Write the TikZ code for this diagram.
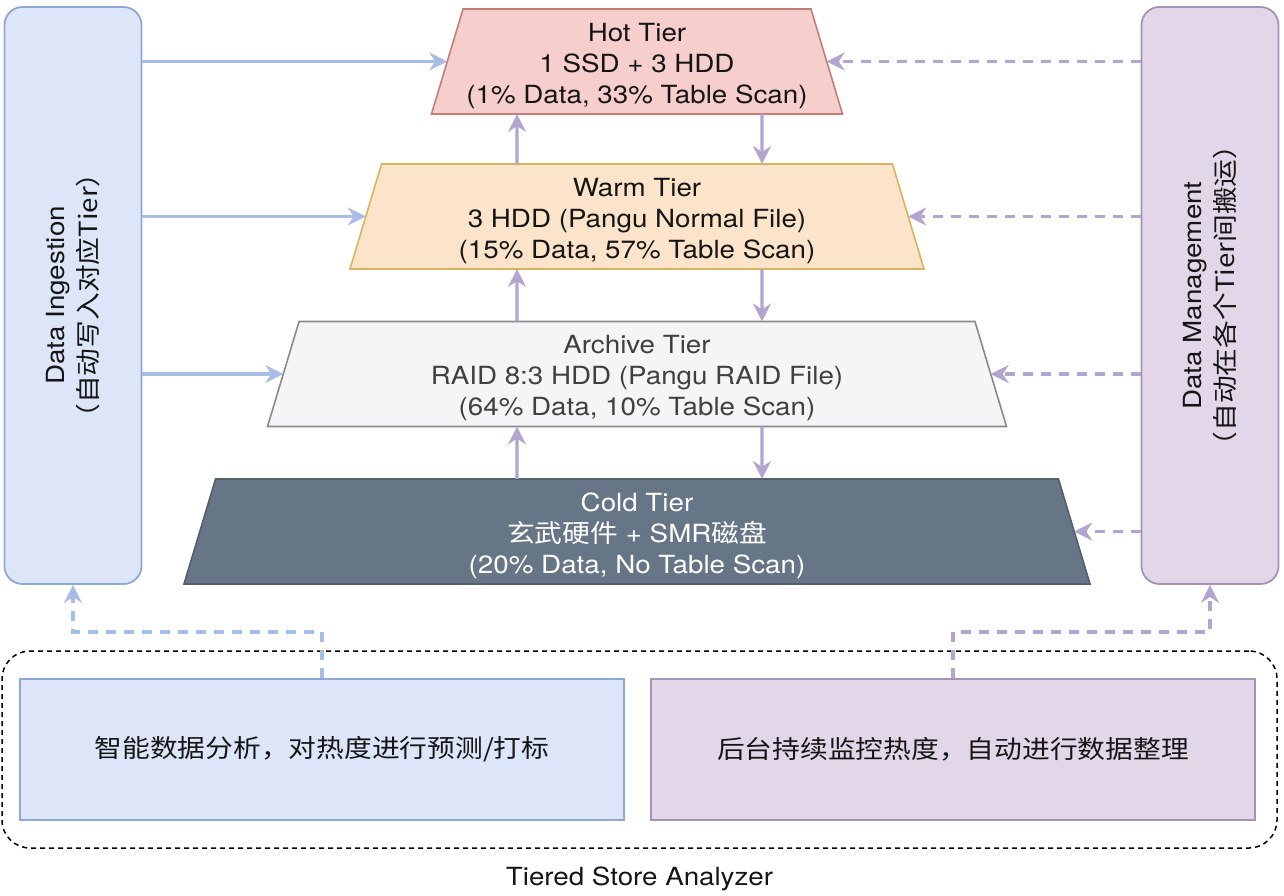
\documentclass[tikz,border=0pt]{standalone}
\usepackage{fontspec}
\setmainfont{TeX Gyre Heros}[FakeStretch=1.11]
\newfontfamily\cjk{Noto Sans CJK SC}[FakeStretch=1.11]
\usetikzlibrary{shapes,arrows.meta,positioning}
\definecolor{hotfill}{HTML}{F6CFCC}
\definecolor{hotline}{HTML}{C47D79}
\definecolor{warmfill}{HTML}{FBE4C9}
\definecolor{warmline}{HTML}{D8B55C}
\definecolor{archfill}{HTML}{F5F5F7}
\definecolor{archline}{HTML}{8A8A8E}
\definecolor{coldfill}{HTML}{667687}
\definecolor{coldline}{HTML}{56606C}
\definecolor{ingfill}{HTML}{DCE6F8}
\definecolor{ingline}{HTML}{8FA7D4}
\definecolor{mgtfill}{HTML}{E2D7E9}
\definecolor{mgtline}{HTML}{A592B9}
\definecolor{bluearrow}{HTML}{A8BDE6}
\definecolor{purparrow}{HTML}{B2A6D0}
\definecolor{txt}{HTML}{151515}
\newcommand{\tierstrut}{\rule{0pt}{27pt}}
\begin{document}
\begin{tikzpicture}[x=1pt,y=-1pt]
\tikzstyle{tier}=[trapezium, trapezium angle=71.5, trapezium stretches body, minimum height=105pt, inner sep=0pt, outer sep=0pt, draw, line width=1.6pt, align=center, text=txt, font=\fontsize{25}{31}\selectfont]
\tikzstyle{panel}=[rectangle, rounded corners=18pt, draw, line width=1.8pt, minimum width=137pt, minimum height=577pt]
\tikzstyle{panellabel}=[rotate=90, align=center, text=txt, font=\fontsize{25}{33}\selectfont]
\tikzstyle{analyzebox}=[rectangle, draw, line width=1.8pt, minimum width=604pt, minimum height=141pt, text=txt, font=\cjk\fontsize{25}{31}\selectfont]
\tikzstyle{feed}=[line width=3.2pt, -{Stealth[length=18pt,width=18pt,inset=6pt]}]
\tikzstyle{inflow}=[feed, bluearrow]
\tikzstyle{mgtflow}=[feed, purparrow, dash pattern=on 10pt off 8pt]
\tikzstyle{moveflow}=[feed, purparrow]
\useasboundingbox (0,0) rectangle (1284,896);
% side panels
\node[panel, fill=ingfill, draw=ingline] (ingest) at (73,295.5) {};
\node[panellabel] (ingesttext) at (ingest) {Data Ingestion\\\cjk （自动写入对应Tier）};
\node[panel, fill=mgtfill, draw=mgtline] (manage) at (1210,295.5) {};
\node[panellabel] (managetext) at (manage) {Data Management\\\cjk （自动在各个Tier间搬运）};
% tiers
\node[tier, minimum width=411pt, fill=hotfill, draw=hotline] (hot) at (637,61.5)
  {\tierstrut Hot Tier\\1 SSD + 3 HDD\\(1\% Data, 33\% Table Scan)};
\node[tier, minimum width=574pt, fill=warmfill, draw=warmline] (warm) at (637,216.5)
  {\tierstrut Warm Tier\\3 HDD (Pangu Normal File)\\(15\% Data, 57\% Table Scan)};
\node[tier, minimum width=739pt, fill=archfill, draw=archline, text=black!75] (archive) at (637,374)
  {\tierstrut Archive Tier\\RAID 8:3 HDD (Pangu RAID File)\\(64\% Data, 10\% Table Scan)};
\node[tier, minimum width=906pt, fill=coldfill, draw=coldline, text=white] (cold) at (637,531.5)
  {\tierstrut Cold Tier\\{\cjk 玄武硬件} + SMR{\cjk 磁盘}\\(20\% Data, No Table Scan)};
% moving between tiers
\draw[moveflow] ([xshift=-120pt]warm.north) -- ([xshift=-120pt]hot.south);
\draw[moveflow] ([xshift=-120pt]archive.north) -- ([xshift=-120pt]warm.south);
\draw[moveflow] ([xshift=-120pt]cold.north) -- ([xshift=-120pt]archive.south);
\draw[moveflow] ([xshift=125pt]hot.south) -- ([xshift=125pt]warm.north);
\draw[moveflow] ([xshift=125pt]warm.south) -- ([xshift=125pt]archive.north);
\draw[moveflow] ([xshift=125pt]archive.south) -- ([xshift=125pt]cold.north);
% ingestion and management
\draw[inflow] (ingest.east |- hot.left side) -- (hot.left side);
\draw[inflow] (ingest.east |- warm.left side) -- (warm.left side);
\draw[inflow] (ingest.east |- archive.left side) -- (archive.left side);
\draw[mgtflow] (manage.west |- hot.right side) -- (hot.right side);
\draw[mgtflow] (manage.west |- warm.right side) -- (warm.right side);
\draw[mgtflow] (manage.west |- archive.right side) -- (archive.right side);
\draw[mgtflow] (manage.west |- cold.right side) -- (cold.right side);
% analyzer
\node[rectangle, rounded corners=28pt, draw, dash pattern=on 5pt off 4pt, line width=1.5pt, minimum width=1275pt, minimum height=197pt] (analyzer) at (639.5,749.5) {};
\node[below=15pt of analyzer, text=txt, font=\fontsize{25}{31}\selectfont] (analyzertext) {Tiered Store Analyzer};
\node[analyzebox, fill=ingfill, draw=ingline] (predict) at (322,749.5) {智能数据分析，对热度进行预测/打标};
\node[analyzebox, fill=mgtfill, draw=mgtline] (monitor) at (953,749.5) {后台持续监控热度，自动进行数据整理};
\draw[inflow, dash pattern=on 10pt off 8pt] (predict.north) -- (predict.north |- 0,632) -| (ingest.south);
\draw[mgtflow] (monitor.north) -- (monitor.north |- 0,632) -| (manage.south);
\end{tikzpicture}
\end{document}
